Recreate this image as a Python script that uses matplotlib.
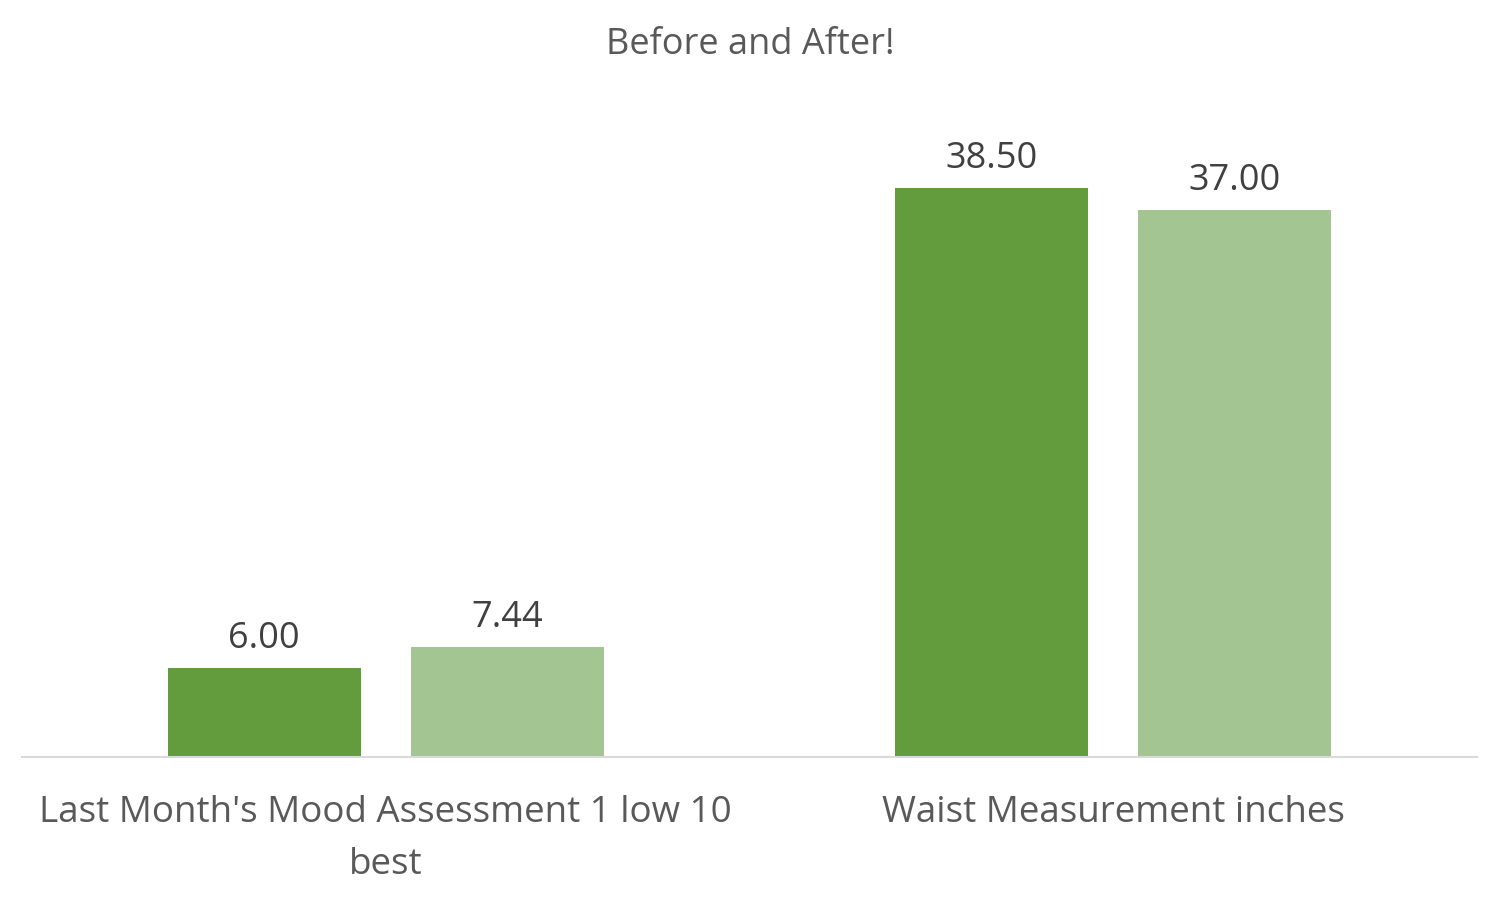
import matplotlib.pyplot as plt
import numpy as np

categories = ["Last Month's Mood Assessment 1 low 10\nbest", "Waist Measurement inches"]
before = [6.00, 38.50]
after = [7.44, 37.00]
title = "Before and After!"

plt.rcParams['font.family'] = ['Open Sans', 'DejaVu Sans']

fig = plt.figure(figsize=(15, 8.99), dpi=100)
ax = fig.add_axes([22 / 1500, 1 - 757 / 899, 1455 / 1500, 665 / 899])

x = np.arange(len(categories))
w = 0.2655
off = 0.167
b1 = ax.bar(x - off, before, w, color='#629C3C')
b2 = ax.bar(x + off, after, w, color='#A3C591')

for bars in (b1, b2):
    for r in bars:
        ax.annotate(f"{r.get_height():.2f}", (r.get_x() + r.get_width() / 2, r.get_height()),
                    xytext=(0, 8), textcoords='offset points', ha='center', va='bottom',
                    fontsize=26, color='#404040')

ax.set_xlim(-0.5, 1.5)
ax.set_ylim(0, 45)
ax.set_xticks(x)
ax.set_xticklabels(categories, fontsize=26.5, color='#595959', linespacing=1.6)
ax.tick_params(axis='x', length=0, pad=27)
ax.set_yticks([])
for s in ['top', 'left', 'right']:
    ax.spines[s].set_visible(False)
ax.spines['bottom'].set_color('#D9D9D9')
ax.spines['bottom'].set_linewidth(1.5)

fig.text(0.5, 1 - 45 / 899, title, ha='center', va='center', fontsize=26, color='#595959')

fig.savefig('out.png', dpi=100)
